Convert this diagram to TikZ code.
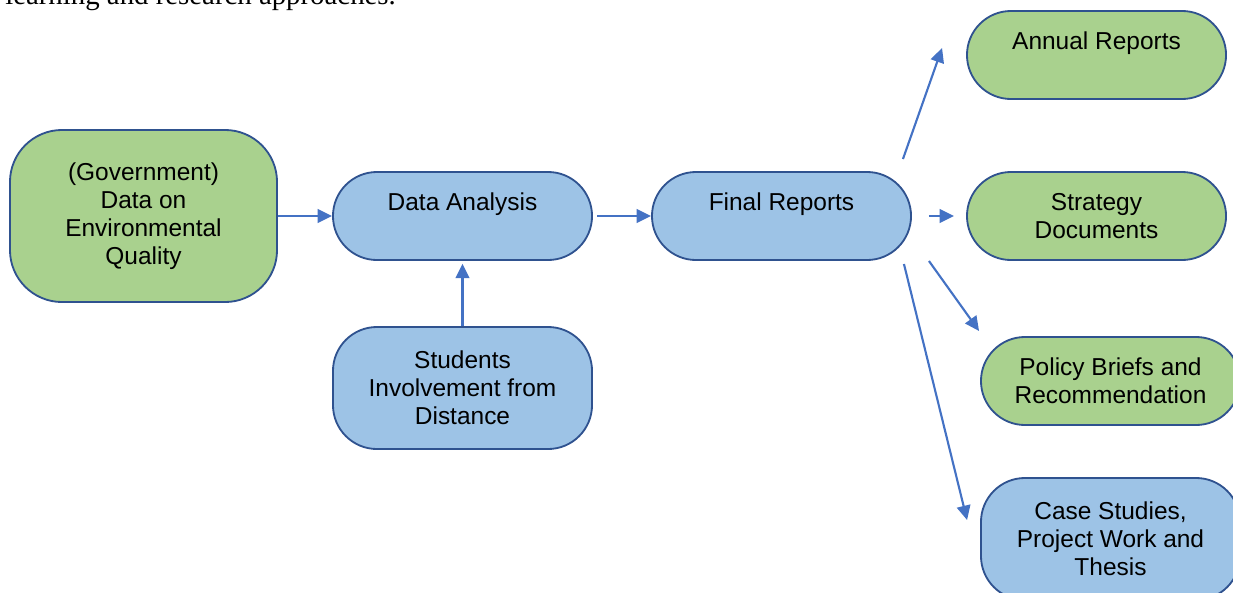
\documentclass[tikz,border=0pt]{standalone}
\usepackage{fontspec}
\setmainfont{Liberation Serif}
\newfontfamily\arialfont{Liberation Sans}
\usetikzlibrary{arrows.meta, positioning}
\definecolor{office-green}{HTML}{A9D18E}
\definecolor{office-blue}{HTML}{9DC3E6}
\definecolor{office-edge}{HTML}{2F528F}
\definecolor{office-arrow}{HTML}{4472C4}

\tikzset{
	box/.style={draw=office-edge, line width=1.3pt, rounded corners=1.1cm, minimum width=6.475cm, minimum height=2.2cm, align=center, font=\arialfont\fontsize{17.4}{19.9}\selectfont},
	greenbox/.style={box, fill=office-green},
	bluebox/.style={box, fill=office-blue},
	topline/.style={text height=0.45cm, text depth=0.72cm},
	flow/.style={-{Triangle[length=0.36cm, width=0.34cm]}, office-arrow, line width=1.5pt}
}

\begin{document}
\begin{tikzpicture}[x=0.025cm, y=-0.025cm]
	\useasboundingbox (0,0) rectangle (1233,592);
	\node[anchor=base west, inner sep=0pt, font=\fontsize{20.5}{25}\selectfont] (intro) at (5,4) {learning and research approaches.};
	% left part
	\node[greenbox, minimum width=6.675cm, minimum height=4.3cm, rounded corners=1.3cm] (gov) at (143.5,216) {(Government)\\Data on\\Environmental\\Quality};
	\node[bluebox, topline] (da) at (462.5,216) {Data Analysis};
	\node[bluebox, minimum height=3.05cm] (stu) at (462.5,388) {Students\\Involvement from\\Distance};
	\node[bluebox, topline] (fin) at (781.5,216) {Final Reports};
	% outputs
	\node[greenbox, topline] (ann) at (1096.5,55) {Annual Reports};
	\node[greenbox] (str) at (1096.5,216) {Strategy\\Documents};
	\node[greenbox] (pol) at (1110.5,381) {Policy Briefs and\\Recommendation};
	\node[bluebox, minimum height=3.05cm] (cas) at (1110.5,539) {Case Studies,\\Project Work and\\Thesis};
	\draw[flow] (gov.east) -- (da.west);
	\draw[flow, shorten <=3pt] (da.east) -- (fin.west);
	\draw[flow, shorten >=2pt] (stu.north) -- (da.south);
	\draw[flow] ([shift={(-9,-57)}]fin.east) -- ([shift={(-24,-7)}]ann.west);
	\draw[flow] ([shift={(17,0)}]fin.east) -- ([shift={(-12,0)}]str.west);
	\draw[flow] ([shift={(17,45)}]fin.east) -- ([shift={(-1,-50)}]pol.west);
	\draw[flow] ([shift={(-8,48)}]fin.east) -- ([shift={(-13,-19)}]cas.west);
\end{tikzpicture}
\end{document}
